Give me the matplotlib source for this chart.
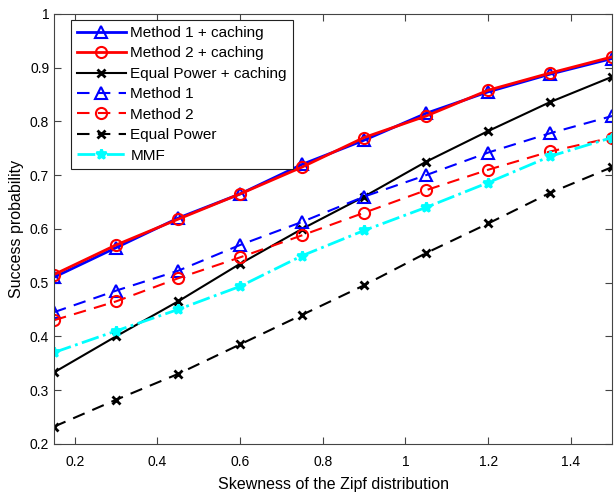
import matplotlib
matplotlib.use('Agg')
import matplotlib.pyplot as plt

plt.rcParams['font.family'] = ['Liberation Sans', 'DejaVu Sans']

skew = [0.15, 0.3, 0.45, 0.6, 0.75, 0.9, 1.05, 1.2, 1.35, 1.5]

m1_cache = [0.51, 0.565, 0.62, 0.665, 0.72, 0.765, 0.815, 0.855, 0.888, 0.917]
m2_cache = [0.515, 0.57, 0.618, 0.665, 0.715, 0.77, 0.81, 0.858, 0.89, 0.92]
ep_cache = [0.333, 0.40, 0.465, 0.535, 0.60, 0.66, 0.725, 0.782, 0.836, 0.883]
m1 = [0.445, 0.485, 0.522, 0.57, 0.613, 0.66, 0.70, 0.742, 0.778, 0.81]
m2 = [0.43, 0.465, 0.508, 0.547, 0.588, 0.63, 0.672, 0.71, 0.744, 0.77]
ep = [0.232, 0.282, 0.33, 0.385, 0.44, 0.495, 0.555, 0.61, 0.667, 0.715]
mmf = [0.37, 0.41, 0.45, 0.493, 0.55, 0.597, 0.64, 0.686, 0.735, 0.77]

xticks = [0.2, 0.4, 0.6, 0.8, 1, 1.2, 1.4]
yticks = [0.2, 0.3, 0.4, 0.5, 0.6, 0.7, 0.8, 0.9, 1]

fig = plt.figure(figsize=(6.14, 4.97), dpi=100)
ax = fig.add_axes([0.088, 0.107, 0.909, 0.865])

ax.plot(skew, m1_cache, 'b-^', lw=2, ms=8, mfc='none', mew=1.5, label='Method 1 + caching')
ax.plot(skew, m2_cache, 'r-o', lw=2, ms=8, mfc='none', mew=1.5, label='Method 2 + caching')
ax.plot(skew, ep_cache, 'k-x', lw=1.5, ms=6, mew=2, label='Equal Power + caching')
ax.plot(skew, m1, 'b--^', lw=1.5, ms=8, mfc='none', mew=1.5, dashes=(6, 4), label='Method 1')
ax.plot(skew, m2, 'r--o', lw=1.5, ms=8, mfc='none', mew=1.5, dashes=(6, 4), label='Method 2')
ax.plot(skew, ep, 'k--x', lw=1.5, ms=6, mew=2, dashes=(6, 4), label='Equal Power')
ax.plot(skew, mmf, color='cyan', ls='-.', marker='*', lw=2, ms=7, mew=2, label='MMF')

ax.set_xlim(0.15, 1.5)
ax.set_ylim(0.2, 1)
ax.set_xticks(xticks)
ax.set_xticklabels(['0.2', '0.4', '0.6', '0.8', '1', '1.2', '1.4'])
ax.set_yticks(yticks)
ax.set_yticklabels(['0.2', '0.3', '0.4', '0.5', '0.6', '0.7', '0.8', '0.9', '1'])
ax.tick_params(direction='in', top=True, right=True, labelsize=10, length=5, color='#444444')
ax.tick_params(axis='x', pad=8)
for s in ax.spines.values():
    s.set_color('#444444')

ax.set_xlabel('Skewness of the Zipf distribution', fontsize=11.5, labelpad=6)
ax.set_ylabel('Success probability', fontsize=11.5)

leg = ax.legend(loc='upper left', bbox_to_anchor=(0.03, 0.986), borderaxespad=0,
                fontsize=11, fancybox=False, framealpha=1,
                edgecolor='#222222', handlelength=3.2,
                labelspacing=0.42, borderpad=0.4, handletextpad=0.3)
leg.get_frame().set_linewidth(0.8)

fig.savefig('out.png', dpi=100)
